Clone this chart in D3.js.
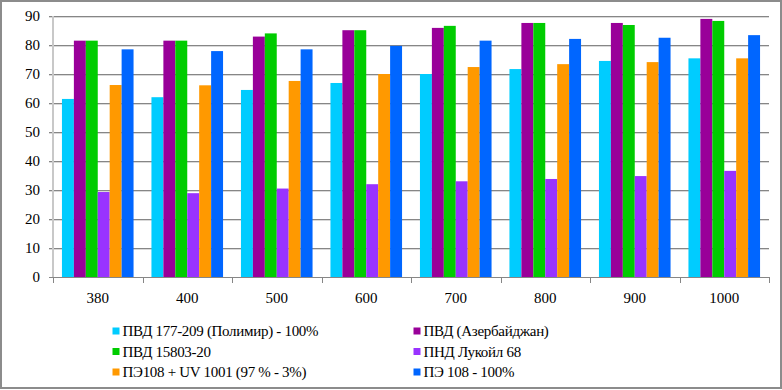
<!DOCTYPE html>
<html>
<head>
<meta charset="utf-8">
<script src="https://cdn.jsdelivr.net/npm/d3@7"></script>
<style>
html,body{margin:0;padding:0;background:#fff;}
svg{display:block;}
</style>
</head>
<body>
<svg id="chart" width="782" height="390"></svg>
<script>
const categories = ["380","400","500","600","700","800","900","1000"];
const seriesNames = [
  "ПВД 177-209 (Полимир) - 100%",
  "ПВД (Азербайджан)",
  "ПВД 15803-20",
  "ПНД Лукойл 68",
  "ПЭ108 + UV 1001 (97 % - 3%)",
  "ПЭ 108 - 100%"
];
const pvd177 = [61.4, 62.0, 64.5, 66.9, 70.0, 71.7, 74.5, 75.4];
const pvdAzer = [81.5, 81.5, 82.9, 85.1, 85.9, 87.6, 87.6, 89.0];
const pvd15803 = [81.5, 81.5, 84.0, 85.1, 86.6, 87.6, 86.9, 88.3];
const pndLukoil = [29.3, 28.9, 30.5, 32.0, 33.0, 33.8, 34.8, 36.6];
const pe108uv = [66.2, 66.1, 67.6, 70.0, 72.4, 73.4, 74.1, 75.4];
const pe108 = [78.5, 77.9, 78.5, 79.7, 81.5, 82.1, 82.5, 83.4];
const yTicks = [0,10,20,30,40,50,60,70,80,90];

const seriesValues = [pvd177, pvdAzer, pvd15803, pndLukoil, pe108uv, pe108];
const colors = ["#00CCFF","#990099","#00CC00","#9933FF","#FF9900","#0066FF"];

(function(){
const FONT = "'Times New Roman', Times, Tinos, 'Liberation Serif', 'DejaVu Serif', serif";
const svg = d3.select("#chart").attr("font-family", FONT).style("font-family", FONT);
svg.append("rect").attr("x",1).attr("y",1).attr("width",780).attr("height",387)
  .attr("fill","#fff").attr("stroke","#8c8c8c").attr("stroke-width",2);

const pl = 53, pr = 769, pt = 16, pb = 277;
const x0 = d3.scaleBand().domain(categories).range([pl,pr]).paddingInner(0.2).paddingOuter(0.1);
const x1 = d3.scaleBand().domain(d3.range(seriesNames.length)).range([0,x0.bandwidth()]);
const y = d3.scaleLinear().domain([0,90]).range([pb,pt]);

const g = svg.append("g");
yTicks.filter(t=>t>0).forEach(t=>{
  g.append("line").attr("x1",49).attr("x2",pr).attr("y1",Math.round(y(t))+1.5).attr("y2",Math.round(y(t))+1.5)
    .attr("stroke","#d9d9d9").attr("stroke-width",1);
  g.append("line").attr("x1",49).attr("x2",pr).attr("y1",Math.round(y(t))+0.5).attr("y2",Math.round(y(t))+0.5)
    .attr("stroke","#868686").attr("stroke-width",1);
});

const rows = categories.map((c,i)=>({cat:c, vals: seriesValues.map(s=>s[i])}));
const groups = svg.append("g").selectAll("g").data(rows).join("g")
  .attr("transform", d=>`translate(${x0(d.cat)},0)`);
groups.selectAll("rect").data(d=>d.vals.map((v,k)=>({v,k}))).join("rect")
  .attr("x", d=>x1(d.k)).attr("width", x1.bandwidth())
  .attr("y", d=>y(d.v)).attr("height", d=>pb - y(d.v))
  .attr("fill", d=>colors[d.k]);

svg.append("line").attr("x1",53).attr("x2",53).attr("y1",pt).attr("y2",pb)
  .attr("stroke","#c8c8c8").attr("stroke-width",2);
svg.append("line").attr("x1",49).attr("x2",pr).attr("y1",pb+0.5).attr("y2",pb+0.5)
  .attr("stroke","#868686").attr("stroke-width",1);

const step = x0.step();
const bounds = d3.range(categories.length+1).map(i=>pl + i*step);
bounds.forEach(bx=>{
  svg.append("line").attr("x1",Math.round(bx)+0.5).attr("x2",Math.round(bx)+0.5)
    .attr("y1",pb).attr("y2",pb+6).attr("stroke","#868686");
});
svg.append("g").selectAll("text").data(categories).join("text")
  .attr("x", d=>x0(d)+x0.bandwidth()/2).attr("y",303)
  .attr("font-family", FONT)
  .attr("text-anchor","middle").attr("font-size","15px").text(d=>d);

svg.append("g").selectAll("text").data(yTicks).join("text")
  .attr("x",40).attr("y",d=>y(d)+5).attr("text-anchor","end")
  .attr("font-family", FONT)
  .attr("font-size","15px").text(d=>d);

const legendPos = [
  [112.5,331],[413.5,331],
  [112.5,351.5],[413.5,351.5],
  [112.5,372],[413.5,372]
];
const lg = svg.append("g");
seriesNames.forEach((name,k)=>{
  const [lx,ly] = legendPos[k];
  lg.append("rect").attr("x",lx).attr("y",ly-3.5).attr("width",7).attr("height",7).attr("fill",colors[k]);
  lg.append("text").attr("x",lx+10).attr("y",ly+5).attr("font-size","15px")
    .attr("font-family", FONT)
    .attr("letter-spacing","-0.3px").text(name);
});
})();
</script>
</body>
</html>
